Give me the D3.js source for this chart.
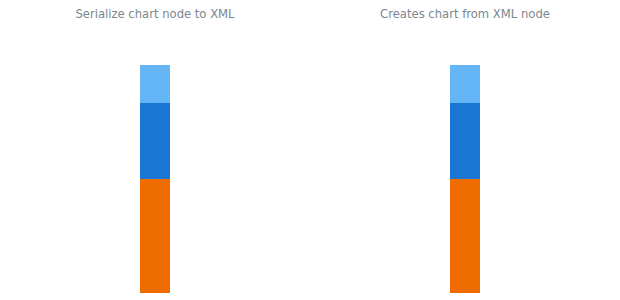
<!DOCTYPE html>
<html>
<head>
<meta charset="utf-8">
<script src="https://cdn.jsdelivr.net/npm/d3@7"></script>
<style>
  body { margin: 0; background: #fff; }
  svg { display: block; }
  .title { font-family: "DejaVu Sans", sans-serif; font-size: 11.6px; fill: #7c868e; }
</style>
</head>
<body>
<div id="chart"></div>
<script>
const titles = ["Serialize chart node to XML", "Creates chart from XML node"];
const categories = ["A"];
const seriesNames = ["s1", "s2", "s3"];
const seriesValues = [[3], [2], [1]];
const colors = ["#ef6c00", "#1976d2", "#64b5f6"];

const width = 620, height = 300;
const panelW = width / 2;

const svg = d3.select("#chart").append("svg")
  .attr("width", width)
  .attr("height", height);

titles.forEach((t, i) => {
  const g = svg.append("g").attr("transform", `translate(${i * panelW},0)`);

  g.append("text")
    .attr("class", "title")
    .attr("x", panelW / 2)
    .attr("y", 18)
    .attr("text-anchor", "middle")
    .text(t);

  const x = d3.scaleBand().domain(categories).range([140, 170]);
  const y = d3.scaleLinear().domain([0, 6]).range([293, 65]);

  // stack the series
  const rows = categories.map((c, ci) => {
    const r = { cat: c };
    seriesNames.forEach((s, si) => r[s] = seriesValues[si][ci]);
    return r;
  });
  const stacked = d3.stack().keys(seriesNames)(rows);

  g.selectAll(".layer")
    .data(stacked)
    .join("g")
    .attr("fill", (d, si) => colors[si])
    .selectAll("rect")
    .data(d => d)
    .join("rect")
    .attr("x", d => x(d.data.cat))
    .attr("width", x.bandwidth())
    .attr("y", d => y(d[1]))
    .attr("height", d => y(d[0]) - y(d[1]));
});
</script>
</body>
</html>
